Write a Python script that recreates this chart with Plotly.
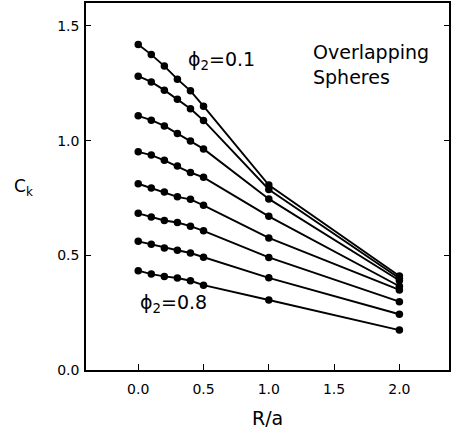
import plotly.graph_objects as go

r_over_a = [0.0, 0.1, 0.2, 0.3, 0.4, 0.5, 1.0, 2.0]
phi2_labels = ["0.1", "0.2", "0.3", "0.4", "0.5", "0.6", "0.7", "0.8"]
ck_phi01 = [1.419, 1.375, 1.325, 1.268, 1.217, 1.150, 0.806, 0.410]
ck_phi02 = [1.281, 1.256, 1.220, 1.180, 1.139, 1.088, 0.787, 0.400]
ck_phi03 = [1.108, 1.089, 1.064, 1.031, 0.998, 0.964, 0.746, 0.390]
ck_phi04 = [0.951, 0.937, 0.914, 0.889, 0.861, 0.840, 0.670, 0.365]
ck_phi05 = [0.812, 0.793, 0.776, 0.755, 0.744, 0.718, 0.576, 0.349]
ck_phi06 = [0.683, 0.667, 0.652, 0.643, 0.627, 0.607, 0.491, 0.298]
ck_phi07 = [0.561, 0.548, 0.532, 0.522, 0.510, 0.492, 0.402, 0.243]
ck_phi08 = [0.433, 0.418, 0.408, 0.401, 0.389, 0.370, 0.305, 0.174]
series = [ck_phi01, ck_phi02, ck_phi03, ck_phi04, ck_phi05, ck_phi06, ck_phi07, ck_phi08]

x_ticks = [0.0, 0.5, 1.0, 1.5, 2.0]
y_ticks = [0.0, 0.5, 1.0, 1.5]

FONT = "DejaVu Sans"

fig = go.Figure()
for lab, ys in zip(phi2_labels, series):
    fig.add_trace(go.Scatter(
        x=r_over_a, y=ys, mode="lines+markers", name="ϕ2=" + lab,
        line=dict(color="black", width=1.9),
        marker=dict(color="black", size=7.5),
        showlegend=False,
    ))

fig.add_annotation(x=1.32, y=1.445, xref="x", yref="y", text="Overlapping<br>Spheres",
                   showarrow=False, xanchor="left", yanchor="top", align="left",
                   font=dict(family=FONT, size=19, color="black"))
fig.add_annotation(x=0.368, y=1.351, xref="x", yref="y", text="ϕ<sub>2</sub>=0.1",
                   showarrow=False, xanchor="left", yanchor="middle",
                   font=dict(family=FONT, size=19, color="black"))
fig.add_annotation(x=0.0, y=0.292, xref="x", yref="y", text="ϕ<sub>2</sub>=0.8",
                   showarrow=False, xanchor="left", yanchor="middle",
                   font=dict(family=FONT, size=19, color="black"))
fig.add_annotation(x=-0.173, y=0.496, xref="paper", yref="paper", text="C<sub>k</sub>",
                   showarrow=False, xanchor="center", yanchor="middle",
                   font=dict(family=FONT, size=17, color="black"))
fig.add_annotation(x=0.499, y=-0.131, xref="paper", yref="paper", text="R/a",
                   showarrow=False, xanchor="center", yanchor="middle",
                   font=dict(family=FONT, size=19, color="black"))

fig.update_xaxes(range=[-0.4, 2.38], tickvals=x_ticks, tickformat=".1f",
                 showgrid=False, zeroline=False, showline=True, linecolor="black",
                 linewidth=1.5, mirror=True, ticks="inside", ticklen=6,
                 tickcolor="black", ticklabelstandoff=5,
                 tickfont=dict(family=FONT, size=14, color="black"))
fig.update_yaxes(range=[0, 1.6], tickvals=y_ticks, tickformat=".1f",
                 showgrid=False, zeroline=False, showline=True, linecolor="black",
                 linewidth=1.5, mirror="ticks", ticks="inside", ticklen=5,
                 tickcolor="black", ticklabelstandoff=2,
                 tickfont=dict(family=FONT, size=14, color="black"))

fig.update_layout(width=452, height=431, margin=dict(l=86, r=1, t=3, b=61),
                  plot_bgcolor="white", paper_bgcolor="white",
                  font=dict(family=FONT, color="black"))

fig.write_html("out.html")
